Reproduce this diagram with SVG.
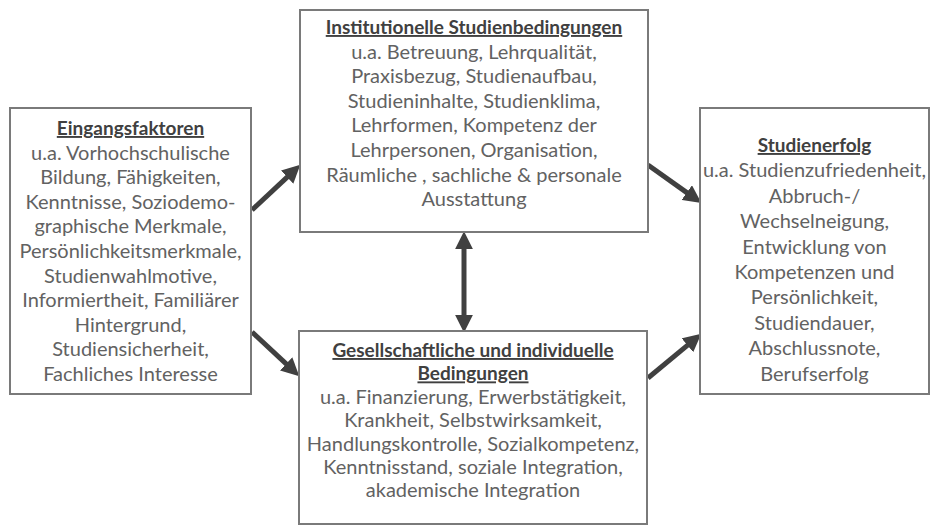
<svg xmlns="http://www.w3.org/2000/svg" width="931" height="525" viewBox="0 0 931 525">
<style>
.box{fill:#fff;stroke:#7a7a7a;stroke-width:2}
text{font-family:Lato,"Open Sans","Liberation Sans",sans-serif;font-size:20px;text-anchor:middle;fill:#626262}
.t{font-size:19px;font-weight:bold;fill:#404040;text-decoration:underline}
.arr{stroke:#404040;stroke-width:5;fill:none}
</style>
<defs>
<marker id="ah" markerUnits="userSpaceOnUse" markerWidth="18" markerHeight="18" refX="2" refY="8" orient="auto-start-reverse" viewBox="0 0 16 16">
<path d="M0,0 L16,8 L0,16 z" fill="#404040"/>
</marker>
</defs>
<rect width="931" height="525" fill="#fff"/>
<g id="connectors">
<line class="arr" x1="252" y1="210" x2="288.8" y2="175.6" marker-end="url(#ah)"/>
<line class="arr" x1="252" y1="332" x2="287.8" y2="365.4" marker-end="url(#ah)"/>
<line class="arr" x1="648" y1="165" x2="688.6" y2="193.9" marker-end="url(#ah)"/>
<line class="arr" x1="648" y1="378" x2="689.2" y2="343.9" marker-end="url(#ah)"/>
<line class="arr" x1="464" y1="247" x2="464" y2="317" marker-start="url(#ah)" marker-end="url(#ah)"/>
</g>
<g id="eingangsfaktoren">
<rect class="box" x="10" y="108" width="241" height="286"/>
<text class="t" x="130.5" y="135">Eingangsfaktoren</text>
<text x="130.5" y="159.6">u.a. Vorhochschulische</text>
<text x="130.5" y="184.2">Bildung, Fähigkeiten,</text>
<text x="130.5" y="208.8">Kenntnisse, Soziodemo-</text>
<text x="130.5" y="233.4">graphische Merkmale,</text>
<text x="130.5" y="258">Persönlichkeitsmerkmale,</text>
<text x="130.5" y="282.6">Studienwahlmotive,</text>
<text x="130.5" y="307.2">Informiertheit, Familiärer</text>
<text x="130.5" y="331.8">Hintergrund,</text>
<text x="130.5" y="356.4">Studiensicherheit,</text>
<text x="130.5" y="381">Fachliches Interesse</text>
</g>
<g id="institutionelle">
<rect class="box" x="300" y="10" width="348" height="222"/>
<text class="t" x="474" y="34">Institutionelle Studienbedingungen</text>
<text x="474" y="58.6">u.a. Betreuung, Lehrqualität,</text>
<text x="474" y="83.2">Praxisbezug, Studienaufbau,</text>
<text x="474" y="107.8">Studieninhalte, Studienklima,</text>
<text x="474" y="132.4">Lehrformen, Kompetenz der</text>
<text x="474" y="157">Lehrpersonen, Organisation,</text>
<text x="474" y="181.6">Räumliche , sachliche &amp; personale</text>
<text x="474" y="206.2">Ausstattung</text>
</g>
<g id="gesellschaftliche">
<rect class="box" x="299" y="331" width="348" height="193"/>
<text class="t" x="473" y="357">Gesellschaftliche und individuelle</text>
<text class="t" x="473" y="380.4">Bedingungen</text>
<text x="473" y="403.8">u.a. Finanzierung, Erwerbstätigkeit,</text>
<text x="473" y="427.2">Krankheit, Selbstwirksamkeit,</text>
<text x="473" y="450.6">Handlungskontrolle, Sozialkompetenz,</text>
<text x="473" y="474">Kenntnisstand, soziale Integration,</text>
<text x="473" y="497.4">akademische Integration</text>
</g>
<g id="studienerfolg">
<rect class="box" x="700" y="108" width="229" height="286"/>
<text class="t" x="814.5" y="152">Studienerfolg</text>
<text x="814.5" y="177.4">u.a. Studienzufriedenheit,</text>
<text x="814.5" y="202.8">Abbruch-/</text>
<text x="814.5" y="228.2">Wechselneigung,</text>
<text x="814.5" y="253.6">Entwicklung von</text>
<text x="814.5" y="279">Kompetenzen und</text>
<text x="814.5" y="304.4">Persönlichkeit,</text>
<text x="814.5" y="329.8">Studiendauer,</text>
<text x="814.5" y="355.2">Abschlussnote,</text>
<text x="814.5" y="380.6">Berufserfolg</text>
</g>
</svg>
